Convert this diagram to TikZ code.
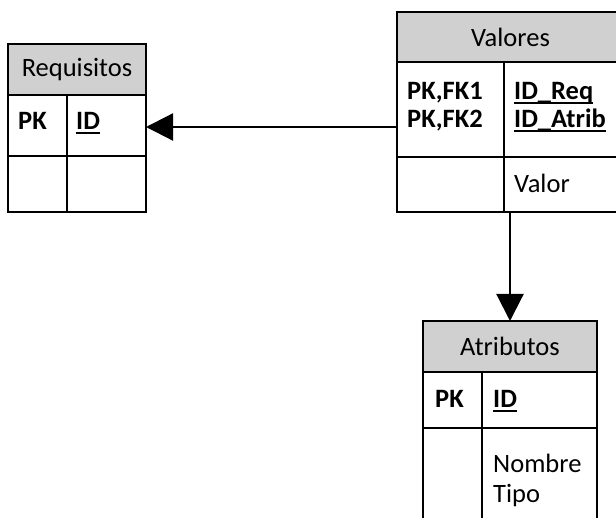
\documentclass[tikz,border=0pt]{standalone}
\usepackage{fontspec}
\setmainfont{Carlito}
\usetikzlibrary{arrows.meta}
\definecolor{headgray}{RGB}{208,208,208}
% bold key field with an underline at a fixed depth
\newcommand\keyfield[1]{\setbox0=\hbox{\bfseries #1}\rlap{\rule[-0.15em]{\wd0}{0.08em}}\box0}
\begin{document}
\begin{tikzpicture}[x=1pt,y=-1pt,
  cell/.style={draw, line width=1.8pt, inner sep=0pt, outer sep=0pt, anchor=north west},
  head/.style={cell, fill=headgray},
  label/.style={inner sep=0pt, anchor=base west, font=\fontsize{26.5}{30}\selectfont},
  title/.style={inner sep=0pt, font=\fontsize{26.5}{30}\selectfont},
  link/.style={line width=2.2pt, -{Triangle[length=27pt,width=27pt]}}]
\useasboundingbox (0,0) rectangle (616,518);
\clip (0,0) rectangle (616,518);

% Requisitos
\node[head, minimum width=138pt, minimum height=51pt] (reqhead) at (8,44) {};
\node[cell, minimum width=59pt, minimum height=61pt] (reqk1) at (8,95) {};
\node[cell, minimum width=79pt, minimum height=61pt] (reqf1) at (67,95) {};
\node[cell, minimum width=59pt, minimum height=56pt] (reqk2) at (8,156) {};
\node[cell, minimum width=79pt, minimum height=56pt] (reqf2) at (67,156) {};
\node[title] (reqtitle) at (reqhead.center) {Requisitos};
\node[label] (reqpk) at (18,130) {\textbf{PK}};
\node[label] (reqid) at (76,130) {\keyfield{ID}};

% Valores
\node[head, minimum width=227pt, minimum height=50pt] (valhead) at (397,12) {};
\node[cell, minimum width=107pt, minimum height=95pt] (valk1) at (397,62) {};
\node[cell, minimum width=120pt, minimum height=95pt] (valf1) at (504,62) {};
\node[cell, minimum width=107pt, minimum height=55pt] (valk2) at (397,157) {};
\node[cell, minimum width=120pt, minimum height=55pt] (valf2) at (504,157) {};
\node[title] (valtitle) at (valhead.center) {Valores};
\node[label] (valpka) at (407,100) {\textbf{PK,FK1}};
\node[label] (valpkb) at (407,128) {\textbf{PK,FK2}};
\node[label] (valreq) at (514,100) {\keyfield{ID\_Req}};
\node[label] (valatr) at (514,128) {\keyfield{ID\_Atrib}};
\node[label] (valval) at (514,193) {Valor};

% Atributos
\node[head, minimum width=174pt, minimum height=51pt] (atrhead) at (423,321) {};
\node[cell, minimum width=59pt, minimum height=56pt] (atrk1) at (423,372) {};
\node[cell, minimum width=115pt, minimum height=56pt] (atrf1) at (482,372) {};
\node[cell, minimum width=59pt, minimum height=110pt] (atrk2) at (423,428) {};
\node[cell, minimum width=115pt, minimum height=110pt] (atrf2) at (482,428) {};
\node[title] (atrtitle) at (atrhead.center) {Atributos};
\node[label] (atrpk) at (435,408) {\textbf{PK}};
\node[label] (atrid) at (493,408) {\keyfield{ID}};
\node[label] (atrnom) at (493,472) {Nombre};
\node[label] (atrtip) at (493,502) {Tipo};

% Relationships
\coordinate (hy) at (0,127);
\draw[link] (valk1.west |- hy) -- (reqf1.east |- hy);
\draw[link] (atrhead.north |- valf2.south) -- (atrhead.north);
\end{tikzpicture}
\end{document}
